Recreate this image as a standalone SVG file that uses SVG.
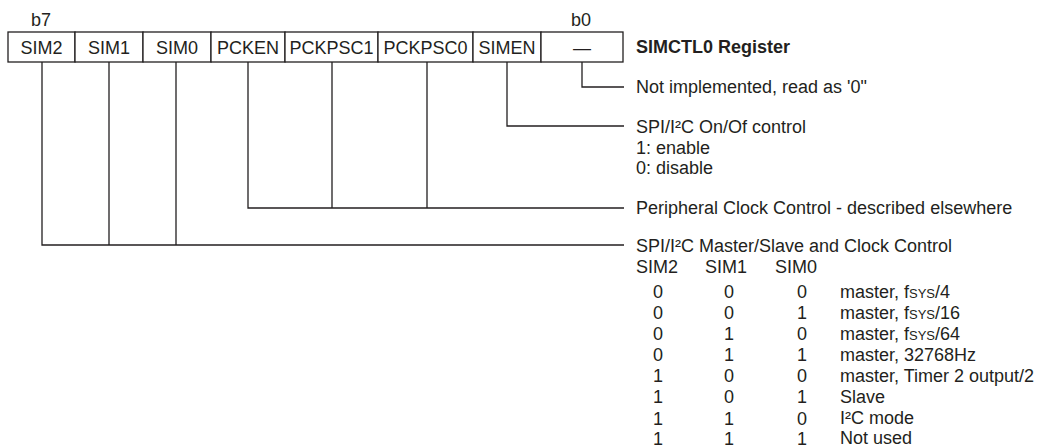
<svg xmlns="http://www.w3.org/2000/svg" width="1045" height="448" viewBox="0 0 1045 448">
<style>
text{font-family:"Liberation Sans",Arial,sans-serif;font-size:18px;fill:#231f20}
.c{text-anchor:middle}
.b{font-weight:bold}
.cell{fill:#fff;stroke:#231f20;stroke-width:1.3}
.ln{fill:none;stroke:#231f20;stroke-width:1.3}
.s{font-size:13px}
</style>
<rect width="1045" height="448" fill="#fff"/>
<g id="bit-labels">
<text class="c" x="41" y="26">b7</text>
<text class="c" x="581" y="26">b0</text>
</g>
<g id="register">
<rect class="cell" x="8" y="32" width="67" height="30"/>
<rect class="cell" x="75" y="32" width="68" height="30"/>
<rect class="cell" x="143" y="32" width="68" height="30"/>
<rect class="cell" x="211" y="32" width="74" height="30"/>
<rect class="cell" x="285" y="32" width="93" height="30"/>
<rect class="cell" x="378" y="32" width="95" height="30"/>
<rect class="cell" x="473" y="32" width="68" height="30"/>
<rect class="cell" x="541" y="32" width="82" height="30"/>
<text class="c" x="41.5" y="54">SIM2</text>
<text class="c" x="109" y="54">SIM1</text>
<text class="c" x="177" y="54">SIM0</text>
<text class="c" x="248" y="54">PCKEN</text>
<text class="c" x="331.5" y="54">PCKPSC1</text>
<text class="c" x="425.5" y="54">PCKPSC0</text>
<text class="c" x="507" y="54">SIMEN</text>
<text class="c" x="582" y="54">—</text>
</g>
<g id="title"><text class="b" x="636" y="53">SIMCTL0 Register</text></g>
<g id="connectors">
<path class="ln" d="M582,62V87H624"/>
<path class="ln" d="M507,62V126H624"/>
<path class="ln" d="M248,62V208H624M332,62V208M427,62V208"/>
<path class="ln" d="M42,62V245H624M109,62V245M176,62V245"/>
</g>
<g id="desc-b0"><text x="636" y="93">Not implemented, read as '0"</text></g>
<g id="desc-simen">
<text x="636" y="133">SPI/I²C On/Of control</text>
<text x="636" y="153.5">1: enable</text>
<text x="636" y="174">0: disable</text>
</g>
<g id="desc-pck"><text x="636" y="214">Peripheral Clock Control - described elsewhere</text></g>
<g id="desc-sim">
<text x="636" y="252">SPI/I²C Master/Slave and Clock Control</text>
<text x="636" y="273">SIM2</text>
<text x="705" y="273">SIM1</text>
<text x="775" y="273">SIM0</text>
<g class="c">
<text x="658" y="297.5">0</text><text x="729" y="297.5">0</text><text x="802" y="297.5">0</text>
<text x="658" y="318.6">0</text><text x="729" y="318.6">0</text><text x="802" y="318.6">1</text>
<text x="658" y="339.7">0</text><text x="729" y="339.7">1</text><text x="802" y="339.7">0</text>
<text x="658" y="360.8">0</text><text x="729" y="360.8">1</text><text x="802" y="360.8">1</text>
<text x="658" y="381.9">1</text><text x="729" y="381.9">0</text><text x="802" y="381.9">0</text>
<text x="658" y="403">1</text><text x="729" y="403">0</text><text x="802" y="403">1</text>
<text x="658" y="425">1</text><text x="729" y="425">1</text><text x="802" y="425">0</text>
<text x="658" y="445">1</text><text x="729" y="445">1</text><text x="802" y="445">1</text>
</g>
<text x="840" y="297.5">master, f<tspan class="s">SYS</tspan>/4</text>
<text x="840" y="318.6">master, f<tspan class="s">SYS</tspan>/16</text>
<text x="840" y="339.7">master, f<tspan class="s">SYS</tspan>/64</text>
<text x="840" y="360.8">master, 32768Hz</text>
<text x="840" y="381.9">master, Timer 2 output/2</text>
<text x="840" y="403">Slave</text>
<text x="840" y="424">I²C mode</text>
<text x="840" y="444">Not used</text>
</g>
</svg>
